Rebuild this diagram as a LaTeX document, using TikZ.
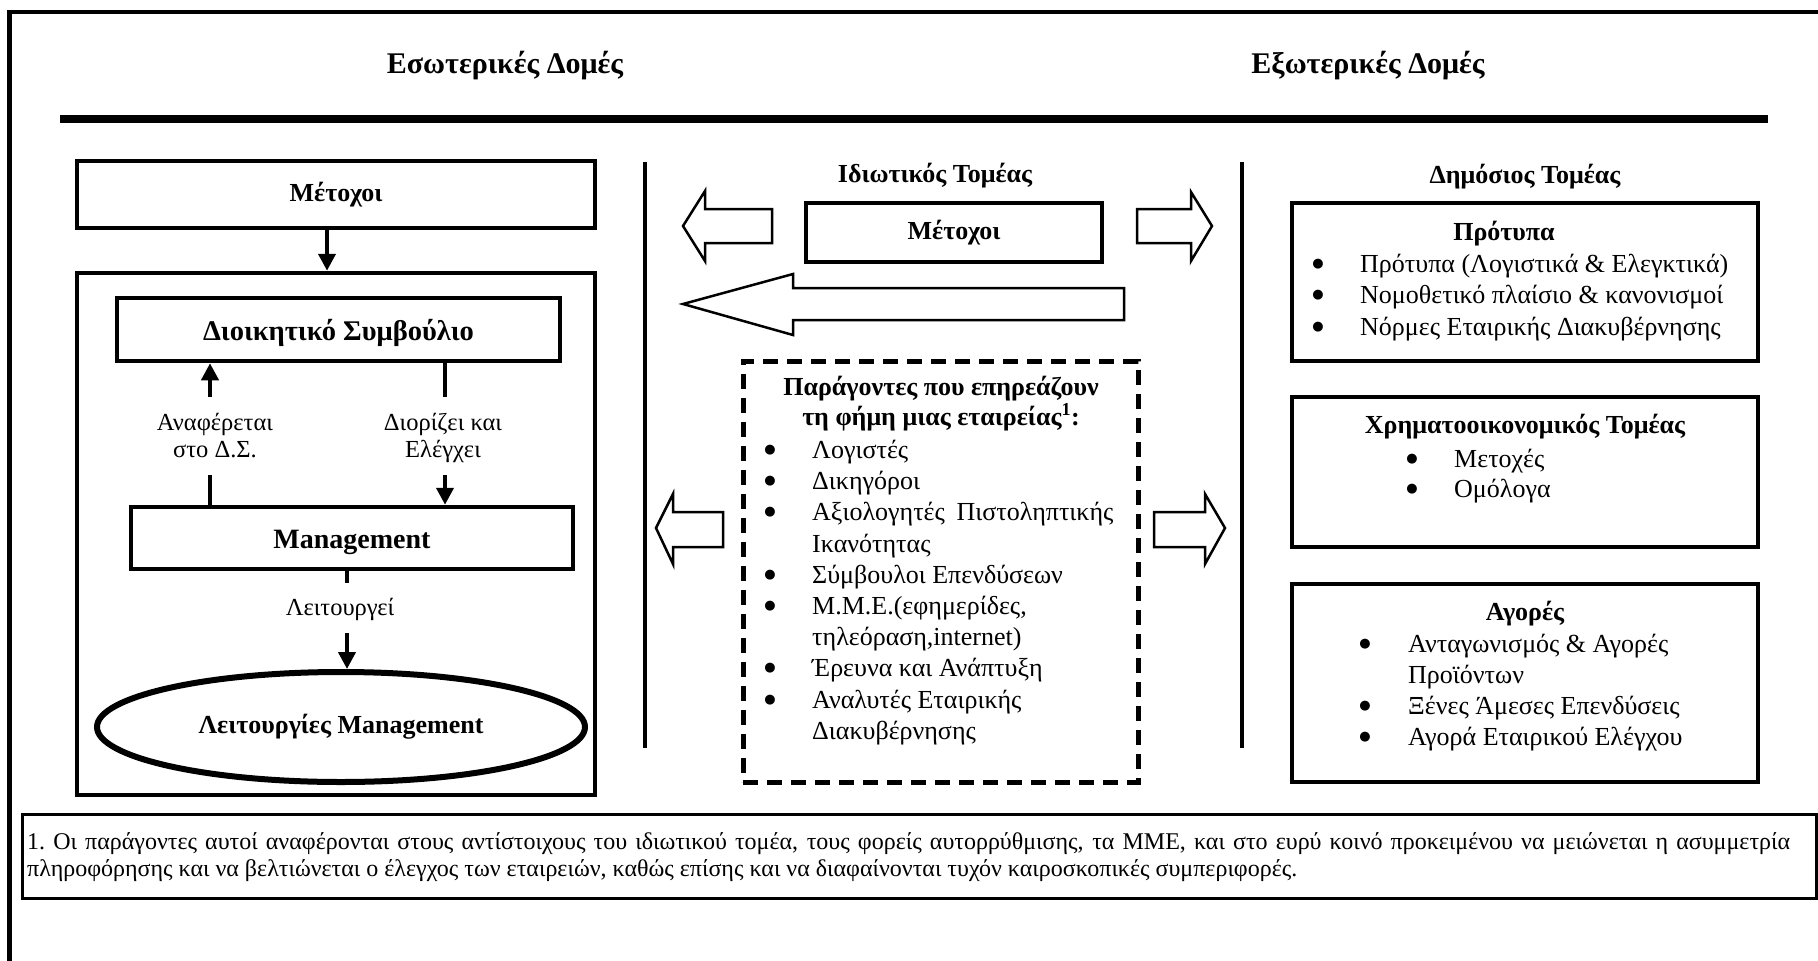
\documentclass[tikz,border=0pt]{standalone}
\usepackage{fontspec}
\setmainfont{Liberation Serif}
\newfontfamily\discfont{DejaVu Sans}
\usetikzlibrary{arrows.meta,shapes.geometric}
\tikzset{
  outerframe/.style={line width=4.5pt, line join=miter},
  panel/.style={draw, line width=4.5pt, inner sep=0pt},
  dashedpanel/.style={draw, line width=5pt, dash pattern=on 15pt off 9pt, inner sep=0pt},
  headtext/.style={font=\fontsize{30}{34}\selectfont\bfseries, inner sep=0pt, anchor=base},
  boxtitle/.style={font=\fontsize{26}{30}\selectfont\bfseries},
  titletext/.style={font=\fontsize{26}{30}\selectfont\bfseries, inner sep=0pt, anchor=base},
  bodytext/.style={font=\fontsize{26}{31}\selectfont, inner sep=0pt, anchor=base west},
  bulletmark/.style={font=\discfont\fontsize{13}{14}\selectfont, inner sep=0pt, anchor=center, yshift=8pt},
  smalltext/.style={font=\fontsize{24.5}{28}\selectfont, inner sep=0pt, anchor=base},
  notetext/.style={font=\fontsize{24}{28}\selectfont, inner sep=0pt, anchor=base west},
  connector/.style={line width=4pt},
  flowarrow/.style={line width=4pt, -{Triangle[length=17pt,width=17pt]}},
  blockarrow/.style={draw, line width=2.5pt, line join=miter, fill=white},
}
\begin{document}
\begin{tikzpicture}[x=1pt,y=-1pt]
\useasboundingbox (0,0) rectangle (1818,961);

% outer frame and header rule
\draw[outerframe] (9.5,1000) -- (9.5,12) -- (1840,12);
\draw[line width=8.5pt] (60,119) -- (1768,119);
\node[headtext] (hin) at (505,73) {Εσωτερικές Δομές};
\node[headtext] (hex) at (1368,73) {Εξωτερικές Δομές};

% ---------- internal structures ----------
\node[panel, boxtitle, minimum width=518pt, minimum height=67pt] (m1) at (336,194.5) {Μέτοχοι};
\node[panel, minimum width=518pt, minimum height=522pt] (big) at (336,534) {};
\node[panel, boxtitle, font=\fontsize{28.5}{32}\selectfont\bfseries, text height=21pt, text depth=0pt,
      minimum width=443pt, minimum height=63pt] (ds) at (338.5,329.5) {Διοικητικό Συμβούλιο};
\node[panel, boxtitle, font=\fontsize{28}{32}\selectfont\bfseries, text height=20pt, text depth=0pt,
      minimum width=442pt, minimum height=62pt] (mg) at (352,538) {Management};
\node[draw, ellipse, line width=6pt, inner sep=0pt, boxtitle, minimum width=488pt, minimum height=110pt] (ell) at (341,727) {Λειτουργίες Management};

\draw[flowarrow] ([xshift=-9pt]m1.south) -- ([xshift=-9pt]big.north);

\coordinate (ul1) at (210,397);
\coordinate (ul2) at (210,475);
\coordinate (rl1) at (445,397);
\coordinate (rl2) at (445,475);
\draw[flowarrow] (ul1) -- (ul1 |- ds.south);
\draw[connector] (ul2) -- (ul2 |- mg.north);
\draw[connector] (rl1 |- ds.south) -- (rl1);
\draw[flowarrow] (rl2) -- (rl2 |- mg.north);

\node[smalltext] (lr1) at (215,430) {Αναφέρεται};
\node[smalltext] (lr2) at (215,457) {στο Δ.Σ.};
\node[smalltext] (ld1) at (443,430) {Διορίζει και};
\node[smalltext] (ld2) at (443,457) {Ελέγχει};

\coordinate (st) at (347,583);
\coordinate (ar) at (347,633);
\draw[connector] (st |- mg.south) -- (st);
\node[smalltext] (lw) at (340,615) {Λειτουργεί};
\draw[flowarrow] (ar) -- (ar |- ell.north);

% ---------- private sector ----------
\draw[line width=4.5pt] (645,162) -- (645,748);
\draw[line width=4.5pt] (1242,162) -- (1242,748);
\node[titletext] (priv) at (935,182) {Ιδιωτικός Τομέας};
\node[panel, boxtitle, minimum width=296pt, minimum height=59pt] (m2) at (954,232.5) {Μέτοχοι};

\draw[blockarrow] (683,226) -- (705,191) -- (705,209) -- (772,209) -- (772,243) -- (705,243) -- (705,261) -- cycle;
\draw[blockarrow] (1137,209) -- (1191,209) -- (1191,192) -- (1212,226) -- (1191,261) -- (1191,243) -- (1137,243) -- cycle;
\draw[blockarrow] (683,304) -- (793,274) -- (793,288) -- (1124,288) -- (1124,320) -- (793,320) -- (793,335) -- cycle;
\draw[blockarrow] (656,528) -- (673,494) -- (673,512) -- (723,512) -- (723,547) -- (673,547) -- (673,564) -- cycle;
\draw[blockarrow] (1154,512) -- (1205,512) -- (1205,494) -- (1225,528) -- (1205,564) -- (1205,547) -- (1154,547) -- cycle;

\node[dashedpanel, minimum width=395pt, minimum height=421pt] (fac) at (940.5,571.5) {};
\node[titletext] (ft1) at (941,395) {Παράγοντες που επηρεάζουν};
\node[titletext] (ft2) at (941,425) {τη φήμη μιας εταιρείας\textsuperscript{1}:};
\foreach \y in {458,489,520,583,614,676,708}
  \node[bulletmark] (fb\y) at (770,\y) {●};
\node[bodytext] (f1) at (812,458) {Λογιστές};
\node[bodytext] (f2) at (812,489) {Δικηγόροι};
\node[bodytext] (f3) at (812,520) {Αξιολογητές\hspace{0.45em}Πιστοληπτικής};
\node[bodytext] (f3b) at (812,552) {Ικανότητας};
\node[bodytext] (f4) at (812,583) {Σύμβουλοι Επενδύσεων};
\node[bodytext] (f5) at (812,614) {Μ.Μ.Ε.(εφημερίδες,};
\node[bodytext] (f5b) at (812,645) {τηλεόραση,internet)};
\node[bodytext] (f6) at (812,676) {Έρευνα και Ανάπτυξη};
\node[bodytext] (f7) at (812,708) {Αναλυτές Εταιρικής};
\node[bodytext] (f7b) at (812,739) {Διακυβέρνησης};

% ---------- public sector ----------
\node[titletext] (pub) at (1525,183) {Δημόσιος Τομέας};

\node[panel, minimum width=466pt, minimum height=158pt] (std) at (1525,282) {};
\node[titletext] (stdt) at (1504,240) {Πρότυπα};
\foreach \y in {272,303,335}
  \node[bulletmark] (sb\y) at (1318,\y) {●};
\node[bodytext] (s1) at (1360,272) {Πρότυπα (Λογιστικά \& Ελεγκτικά)};
\node[bodytext] (s2) at (1360,303) {Νομοθετικό πλαίσιο \& κανονισμοί};
\node[bodytext] (s3) at (1360,335) {Νόρμες Εταιρικής Διακυβέρνησης};

\node[panel, minimum width=466pt, minimum height=150pt] (fin) at (1525,472) {};
\node[titletext] (fint) at (1525,433) {Χρηματοοικονομικός Τομέας};
\foreach \y in {467,497}
  \node[bulletmark] (cb\y) at (1412,\y) {●};
\node[bodytext] (c1) at (1454,467) {Μετοχές};
\node[bodytext] (c2) at (1454,497) {Ομόλογα};

\node[panel, minimum width=466pt, minimum height=198pt] (mkt) at (1525,683) {};
\node[titletext] (mktt) at (1525,620) {Αγορές};
\foreach \y in {652,714,745}
  \node[bulletmark] (kb\y) at (1365,\y) {●};
\node[bodytext] (k1) at (1408,652) {Ανταγωνισμός \& Αγορές};
\node[bodytext] (k1b) at (1408,683) {Προϊόντων};
\node[bodytext] (k2) at (1408,714) {Ξένες Άμεσες Επενδύσεις};
\node[bodytext] (k3) at (1408,745) {Αγορά Εταιρικού Ελέγχου};

% ---------- footnote ----------
\node[draw, line width=3pt, inner sep=0pt, minimum width=1794pt, minimum height=84pt] (note) at (919,856) {};
\node[notetext] (n1) at (27,849) {\makebox[1763pt][s]{1.\ Οι παράγοντες αυτοί αναφέρονται στους αντίστοιχους του ιδιωτικού τομέα, τους φορείς αυτορρύθμισης, τα ΜΜΕ, και στο ευρύ κοινό προκειμένου να μειώνεται η ασυμμετρία}};
\node[notetext] (n2) at (27,876) {πληροφόρησης και να βελτιώνεται ο έλεγχος των εταιρειών, καθώς επίσης και να διαφαίνονται τυχόν καιροσκοπικές συμπεριφορές.};
\end{tikzpicture}
\end{document}
